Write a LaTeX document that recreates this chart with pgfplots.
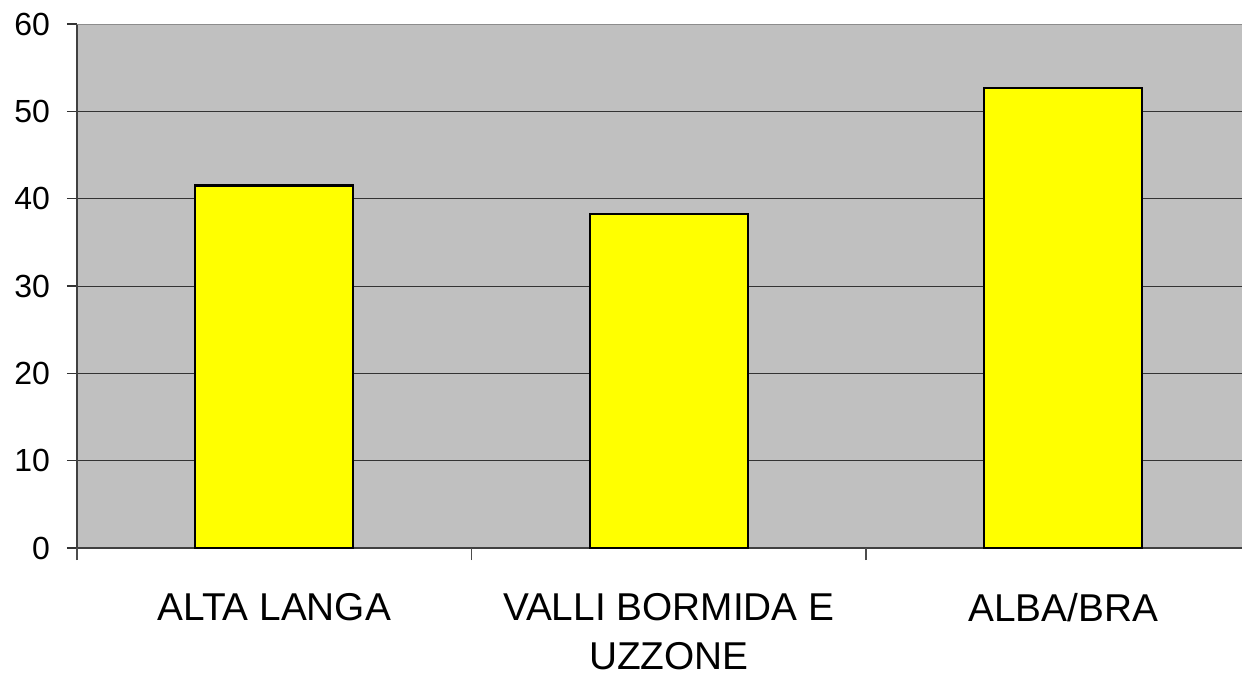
\documentclass[border=0pt]{standalone}
\usepackage{pgfplots}
\pgfplotsset{compat=1.18}
\usepackage{fontspec}
\setmainfont{Liberation Sans}
\definecolor{bggray}{HTML}{C0C0C0}
\definecolor{baryellow}{HTML}{FFFF00}
\begin{document}
\begin{tikzpicture}[x=1pt,y=1pt]
\begin{axis}[
  at={(0,0)}, anchor=south west,
  scale only axis,
  width=582.5pt, height=262pt,
  xmin=-0.5, xmax=2.453,
  ymin=0, ymax=60,
  ytick={0,10,...,60},
  xtick={0,1,2},
  xticklabels={ALTA LANGA,{VALLI BORMIDA E\\UZZONE},ALBA/BRA},
  x tick style={draw=none},
  extra x ticks={-0.5,0.5,1.5},
  extra x tick labels={},
  extra x tick style={x tick style={draw=black!70, line width=0.6pt}, major tick length=6pt, grid=none},
  tick align=outside,
  y tick style={draw=black!80, line width=0.6pt},
  major tick length=5pt,
  ymajorgrids,
  grid style={black!80, line width=0.5pt},
  axis x line*=bottom,
  axis y line*=left,
  axis line style={black!75, line width=0.7pt},
  axis background/.style={fill=bggray},
  /pgf/number format/assume math mode=true,
  yticklabel style={font=\fontsize{16}{19}\selectfont, xshift=-5pt},
  xticklabel style={font=\fontsize{19.4}{24.5}\selectfont, align=center, yshift=-14pt},
  ybar, bar width=0.4,
]
\addplot[fill=baryellow, draw=black, line width=1.1pt] coordinates {(0,41.5) (1,38.2) (2,52.7)};
\draw[black!45, line width=1pt] (rel axis cs:0,1) -- (rel axis cs:1,1);
\end{axis}
\pgfresetboundingbox
\path[use as bounding box] (-38.5pt,-66.5pt) rectangle (582.5pt,274pt);
\end{tikzpicture}
\end{document}
